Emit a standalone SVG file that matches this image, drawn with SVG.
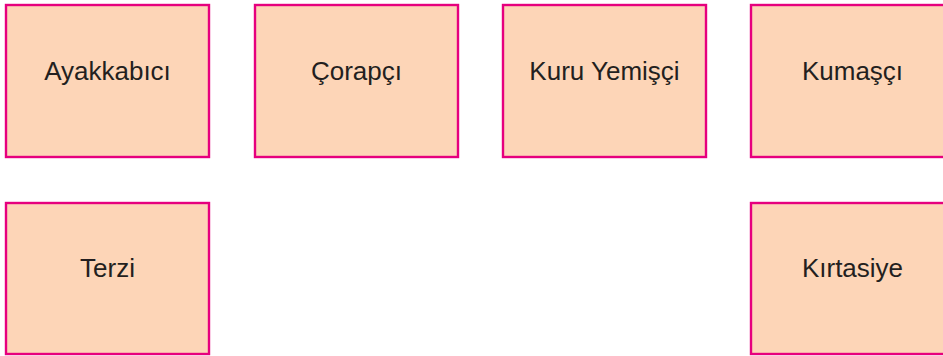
<svg xmlns="http://www.w3.org/2000/svg" width="943" height="356" viewBox="0 0 943 356">
<style>
.box{fill:#FDD5B7;stroke:#E6007E;stroke-width:2.4}
.lbl{font-family:"Liberation Sans",Arial,sans-serif;font-size:26px;fill:#231F20;text-anchor:middle}
</style>
<rect width="943" height="356" fill="#FFFFFF"/>
<g id="ayakkabici"><rect class="box" x="6" y="5" width="203" height="152"/><text class="lbl" x="107.5" y="80">Ayakkabıcı</text></g>
<g id="corapci"><rect class="box" x="255" y="5" width="203" height="152"/><text class="lbl" x="356.5" y="80">Çorapçı</text></g>
<g id="kuruyemisci"><rect class="box" x="503" y="5" width="203" height="152"/><text class="lbl" x="604.5" y="80">Kuru Yemişçi</text></g>
<g id="kumasci"><rect class="box" x="751" y="5" width="203" height="152"/><text class="lbl" x="852.5" y="80">Kumaşçı</text></g>
<g id="terzi"><rect class="box" x="6" y="203" width="203" height="151"/><text class="lbl" x="107.5" y="277">Terzi</text></g>
<g id="kirtasiye"><rect class="box" x="751" y="203" width="203" height="151"/><text class="lbl" x="852.5" y="277">Kırtasiye</text></g>
<g id="connectors"></g>
</svg>
